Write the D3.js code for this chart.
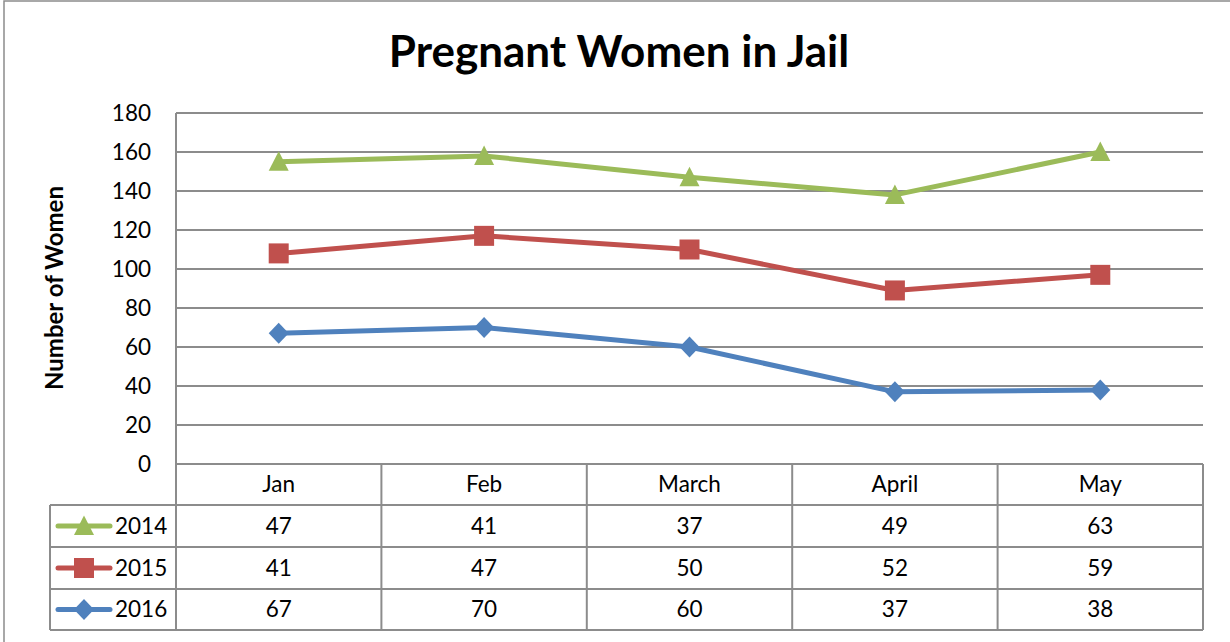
<!DOCTYPE html>
<html>
<head>
<meta charset="utf-8">
<script src="https://cdn.jsdelivr.net/npm/d3@7"></script>
<style>
  body { margin: 0; background: #fff; }
  text { font-family: Lato, "Open Sans", sans-serif; fill: #000; }
</style>
</head>
<body>
<div id="chart"></div>
<script>
// stacked line chart, values as shown in the data table
var months = ["Jan", "Feb", "March", "April", "May"];
var seriesNames = ["2014", "2015", "2016"];
var values2014 = [47, 41, 37, 49, 63];
var values2015 = [41, 47, 50, 52, 59];
var values2016 = [67, 70, 60, 37, 38];
var yTicks = [0, 20, 40, 60, 80, 100, 120, 140, 160, 180];

var colors = { "2014": "#9BBB59", "2015": "#C0504D", "2016": "#4F81BD" };

var width = 1230, height = 642;
var marginLeft = 176, marginRight = 27, marginTop = 113;
var plotBottom = 464;
var rowH = [41, 42, 42, 41];
var legendLeft = 50;
var fontSize = "22.5px";

// excel-like markers, centred on 0,0
function markerPath(name) {
    if (name == "2014") return "M0,-10.5L10,9L-10,9Z";
    if (name == "2015") return "M-10,-10H10V10H-10Z";
    return "M0,-10.5L10,0L0,10.5L-10,0Z";
}

var svg = d3.select("#chart").append("svg")
    .attr("width", width)
    .attr("height", height);

// outer chart frame
svg.append("rect")
    .attr("x", 4).attr("y", 1)
    .attr("width", width + 10).attr("height", height + 10)
    .attr("fill", "none")
    .attr("stroke", "#8c8c8c")
    .attr("stroke-width", 1.5);

svg.append("text")
    .attr("x", 619).attr("y", 67)
    .attr("text-anchor", "middle")
    .attr("font-size", "44px")
    .attr("font-weight", "bold")
    .text("Pregnant Women in Jail");

var x = d3.scaleBand()
    .domain(months)
    .range([marginLeft, width - marginRight]);

var y = d3.scaleLinear()
    .domain([0, 180])
    .range([plotBottom, marginTop]);

// gridlines
svg.append("g")
    .selectAll("line")
    .data(yTicks)
    .enter()
    .append("line")
    .attr("x1", marginLeft)
    .attr("x2", width - marginRight)
    .attr("y1", function(d) { return y(d); })
    .attr("y2", function(d) { return y(d); })
    .attr("stroke", "#8c8c8c")
    .attr("stroke-width", 2);

svg.append("line")
    .attr("x1", marginLeft).attr("x2", marginLeft)
    .attr("y1", marginTop).attr("y2", plotBottom)
    .attr("stroke", "#8c8c8c")
    .attr("stroke-width", 2);

// y axis labels
var yAxis = d3.axisLeft(y).tickValues(yTicks).tickSize(0).tickPadding(25);
var yg = svg.append("g")
    .attr("transform", "translate(" + marginLeft + ",0)")
    .call(yAxis);
yg.select(".domain").remove();
yg.selectAll("text")
    .attr("font-size", fontSize)
    .attr("font-family", "Lato, 'Open Sans', sans-serif")
    .attr("dy", "0.35em")
    .attr("fill", "#000");

svg.append("text")
    .attr("transform", "translate(63,288) rotate(-90)")
    .attr("text-anchor", "middle")
    .attr("font-size", "24px")
    .attr("font-weight", "bold")
    .text("Number of Women");

// stack series: 2016 at bottom, then 2015, then 2014
var raw = { "2014": values2014, "2015": values2015, "2016": values2016 };
var rows = months.map(function(m, i) {
    return { month: m, "2014": values2014[i], "2015": values2015[i], "2016": values2016[i] };
});
var stacked = d3.stack().keys(["2016", "2015", "2014"])(rows);

var line = d3.line()
    .x(function(d) { return x(d.data.month) + x.bandwidth() / 2; })
    .y(function(d) { return y(d[1]); });

var seriesG = svg.selectAll(".series")
    .data(stacked)
    .enter()
    .append("g")
    .attr("class", "series");

seriesG.append("path")
    .attr("d", function(d) { return line(d); })
    .attr("fill", "none")
    .attr("stroke", function(d) { return colors[d.key]; })
    .attr("stroke-width", 5)
    .attr("stroke-linejoin", "round");

seriesG.selectAll("path.marker")
    .data(function(d) { return d.map(function(p) { return { key: d.key, p: p }; }); })
    .enter()
    .append("path")
    .attr("class", "marker")
    .attr("d", function(d) { return markerPath(d.key); })
    .attr("transform", function(d) {
        return "translate(" + (x(d.p.data.month) + x.bandwidth() / 2) + "," + y(d.p[1]) + ")";
    })
    .attr("fill", function(d) { return colors[d.key]; });

// data table
var tableTop = plotBottom;
var rowY = [tableTop];
rowH.forEach(function(h, i) { rowY.push(rowY[i] + h); });
var tableRight = width - marginRight;
var gridColor = "#8c8c8c";
var table = svg.append("g");

// horizontal lines
rowY.forEach(function(yy, i) {
    table.append("line")
        .attr("x1", i == 0 ? marginLeft : legendLeft)
        .attr("x2", tableRight)
        .attr("y1", yy).attr("y2", yy)
        .attr("stroke", gridColor).attr("stroke-width", 2);
});
// vertical lines
months.forEach(function(m) {
    table.append("line")
        .attr("x1", x(m)).attr("x2", x(m))
        .attr("y1", tableTop).attr("y2", rowY[4])
        .attr("stroke", gridColor).attr("stroke-width", 2);
});
table.append("line")
    .attr("x1", tableRight).attr("x2", tableRight)
    .attr("y1", tableTop).attr("y2", rowY[4])
    .attr("stroke", gridColor).attr("stroke-width", 2);
table.append("line")
    .attr("x1", legendLeft).attr("x2", legendLeft)
    .attr("y1", rowY[1]).attr("y2", rowY[4])
    .attr("stroke", gridColor).attr("stroke-width", 2);

// header
table.selectAll("text.head")
    .data(months)
    .enter()
    .append("text")
    .attr("class", "head")
    .attr("x", function(d) { return x(d) + x.bandwidth() / 2; })
    .attr("y", (rowY[0] + rowY[1]) / 2)
    .attr("dy", "0.35em")
    .attr("text-anchor", "middle")
    .attr("font-size", fontSize)
    .text(function(d) { return d; });

seriesNames.forEach(function(name, r) {
    var cy = (rowY[r + 1] + rowY[r + 2]) / 2;
    table.selectAll("text.v" + name)
        .data(raw[name])
        .enter()
        .append("text")
        .attr("x", function(d, i) { return x(months[i]) + x.bandwidth() / 2; })
        .attr("y", cy)
        .attr("dy", "0.35em")
        .attr("text-anchor", "middle")
        .attr("font-size", fontSize)
        .text(function(d) { return d; });

    // legend key
    table.append("line")
        .attr("x1", 58).attr("x2", 110)
        .attr("y1", cy).attr("y2", cy)
        .attr("stroke", colors[name])
        .attr("stroke-width", 5)
        .attr("stroke-linecap", "round");
    table.append("path")
        .attr("d", markerPath(name))
        .attr("transform", "translate(84," + cy + ")")
        .attr("fill", colors[name]);
    table.append("text")
        .attr("x", 115)
        .attr("y", cy)
        .attr("dy", "0.35em")
        .attr("font-size", fontSize)
        .text(name);
});
</script>
</body>
</html>
